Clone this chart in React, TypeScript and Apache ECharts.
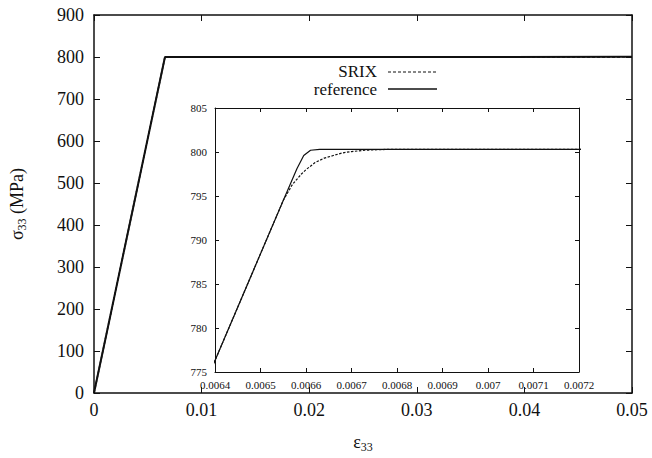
import React, { useEffect, useRef } from "react";
import * as echarts from "echarts";

const refStrain = [0, 0.0064, 0.00655, 0.00658, 0.006595, 0.00661, 0.00663, 0.05];
const refStress = [0, 776.3, 794.5, 798.1, 799.6, 800.2, 800.3, 800.3];

const srixStrain = [0, 0.0064, 0.00655, 0.00657, 0.00659, 0.0066, 0.00662, 0.00664, 0.00666, 0.00668, 0.0067, 0.00673, 0.00678, 0.05];
const srixStress = [0, 776.3, 794.5, 796.3, 797.5, 798.0, 798.8, 799.3, 799.6, 799.9, 800.05, 800.2, 800.3, 800.3];

const legendNames = ["SRIX", "reference"];

const mainXRange = [0, 0.05, 0.01];
const mainYRange = [0, 900, 100];
const insetXRange = [0.0064, 0.0072, 0.0001];
const insetYRange = [775, 805, 5];

const FONT = "Liberation Serif";

const zip = (xs: number[], ys: number[]) => xs.map((x, i) => [x, ys[i]]);
const fmt = (v: number) => String(Number(v.toPrecision(6)));

export default function App() {
  const ref = useRef<HTMLDivElement>(null);
  useEffect(() => {
    if (!ref.current) return;
    const chart = echarts.init(ref.current, null, { renderer: "svg" });
    const lineAx = (w: number) => ({ show: true, onZero: false, lineStyle: { color: "#111", width: w } });
    const tick = (len: number, w: number) => ({ show: true, inside: true, length: len, lineStyle: { color: "#111", width: w } });
    const mainLabel = { fontFamily: FONT, fontSize: 18, color: "#111" };
    const insetLabel = { fontFamily: FONT, fontSize: 11, color: "#111" };

    const mkX = (r: number[], grid: number, pos: string, show: boolean, tl: number, lw: number, label: any, margin: number, extra: any = {}) => ({
      type: "value", gridIndex: grid, position: pos, min: r[0], max: r[1], interval: r[2],
      axisLine: lineAx(lw), axisTick: tick(tl, 1), splitLine: { show: false },
      axisLabel: show ? { ...label, margin, formatter: (v: number) => fmt(v), showMinLabel: true, showMaxLabel: true } : { show: false },
      ...extra,
    });

    const rich = {
      a: { fontFamily: FONT, fontSize: 18, color: "#111", lineHeight: 22 },
      b: { fontFamily: FONT, fontSize: 12, color: "#111", lineHeight: 12, verticalAlign: "bottom" },
    };

    chart.setOption({
      animation: false,
      backgroundColor: "#fff",
      textStyle: { fontFamily: FONT },
      grid: [
        { left: 92, top: 15, right: 20, bottom: 60 },
        { left: 215, top: 108, right: 73, bottom: 86 },
      ],
      graphic: [
        { type: "text", x: 377, y: 71, style: { text: legendNames[0], fontFamily: FONT, fontSize: 17, lineHeight: 16, fill: "#111", align: "right", verticalAlign: "middle" } },
        { type: "line", shape: { x1: 388, y1: 72, x2: 437, y2: 72 }, style: { stroke: "#111", lineWidth: 1.2, lineDash: [3, 2] } },
        { type: "text", x: 377, y: 89.5, style: { text: legendNames[1], fontFamily: FONT, fontSize: 17, lineHeight: 16, fill: "#111", align: "right", verticalAlign: "middle" } },
        { type: "line", shape: { x1: 388, y1: 89, x2: 437, y2: 89 }, style: { stroke: "#111", lineWidth: 1.5 } },
      ],
      xAxis: [
        mkX(mainXRange, 0, "bottom", true, 6, 1.5, mainLabel, 8, {
          name: "{a|ε}{b|33}",
          nameLocation: "middle",
          nameGap: 38,
          nameTextStyle: { rich },
        }),
        mkX(mainXRange, 0, "top", false, 6, 1.5, mainLabel, 8),
        mkX(insetXRange, 1, "bottom", true, 4, 1, insetLabel, 7),
        mkX(insetXRange, 1, "top", false, 4, 1, insetLabel, 7),
      ],
      yAxis: [
        mkX(mainYRange, 0, "left", true, 6, 1.5, mainLabel, 10, {
          name: "{a|σ}{b|33}{a| (MPa)}",
          nameLocation: "middle",
          nameGap: 66,
          nameRotate: 90,
          nameTextStyle: { rich },
        }),
        mkX(mainYRange, 0, "right", false, 6, 1.5, mainLabel, 10),
        mkX(insetYRange, 1, "left", true, 4, 1, insetLabel, 8),
        mkX(insetYRange, 1, "right", false, 4, 1, insetLabel, 8),
      ],
      series: [
        {
          name: legendNames[1], type: "line", xAxisIndex: 0, yAxisIndex: 0, symbol: "none",
          data: zip(refStrain, refStress), lineStyle: { color: "#111", width: 2 },
        },
        {
          name: legendNames[0], type: "line", xAxisIndex: 0, yAxisIndex: 0, symbol: "none",
          data: zip(srixStrain, srixStress), lineStyle: { color: "#111", width: 1.5, type: [3, 2] },
        },
        {
          name: legendNames[1], type: "line", xAxisIndex: 2, yAxisIndex: 2, symbol: "none",
          data: zip(refStrain, refStress), lineStyle: { color: "#111", width: 1.2 },
        },
        {
          name: legendNames[0], type: "line", xAxisIndex: 2, yAxisIndex: 2, symbol: "none",
          data: zip(srixStrain, srixStress), lineStyle: { color: "#111", width: 1.2, type: [2.5, 1.5] },
        },
      ],
    });
    return () => chart.dispose();
  }, []);
  return <div ref={ref} style={{ width: 652, height: 458, position: "absolute", left: 0, top: 0 }} />;
}
